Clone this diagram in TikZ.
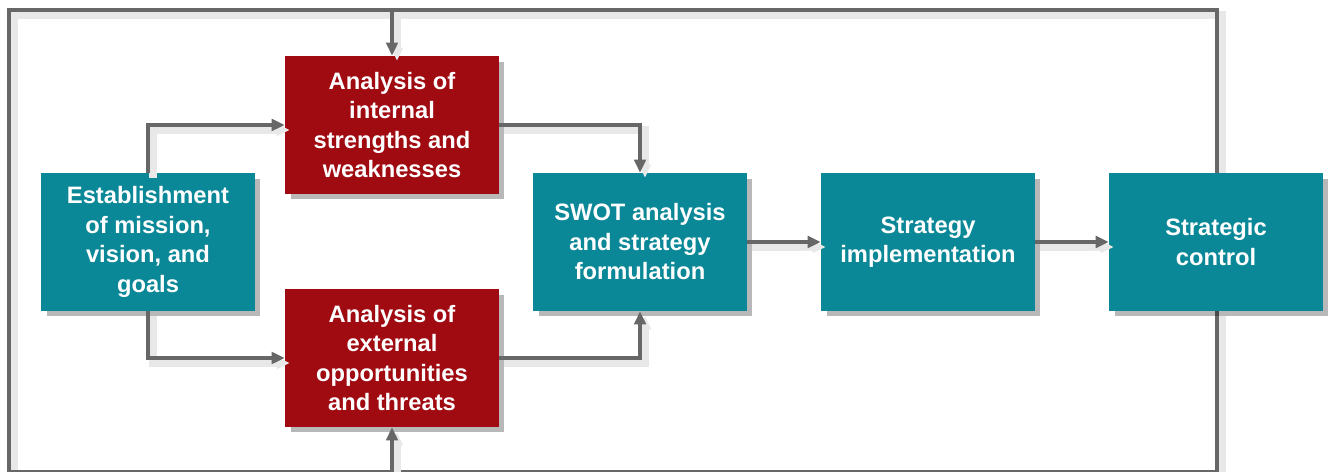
\documentclass[tikz,border=0pt]{standalone}
\usepackage{fontspec}
\setmainfont{Liberation Sans}
\usetikzlibrary{arrows.meta,shadows}
\definecolor{planteal}{HTML}{0B8897}
\definecolor{planred}{HTML}{A00A11}
\definecolor{linkgray}{HTML}{676767}

\begin{document}
\begin{tikzpicture}[x=0.02cm,y=-0.02cm,
 box/.style={rectangle,minimum width=4.28cm,minimum height=2.76cm,inner sep=0pt,
  align=center,text=white,font=\fontsize{13.5}{16.8}\selectfont\bfseries,
  drop shadow={shadow xshift=0.11cm,shadow yshift=-0.11cm,fill=black,opacity=0.28}},
 tealbox/.style={box,fill=planteal},
 redbox/.style={box,fill=planred},
 link/.style={draw=linkgray,line width=2.2pt,
  preaction={draw=black!9,line width=4pt,transform canvas={xshift=0.1cm,yshift=-0.1cm}}},
 tip/.style={-{Triangle[length=2.6mm,width=2.3mm]}}]
\useasboundingbox (0,0) rectangle (1331,472);
\coordinate (ul) at (9,10);
\coordinate (ll) at (9,472);
% feedback loop
\draw[link] (1217,173) |- (ul) -- (ll) -| (1217,311);
\node[tealbox] (est) at (148,242) {Establishment\\of mission,\\vision, and\\goals};
\node[redbox] (inner) at (392,125) {Analysis of\\internal\\strengths and\\weaknesses};
\node[redbox] (outer) at (392,358) {Analysis of\\external\\opportunities\\and threats};
\node[tealbox] (swot) at (640,242) {SWOT analysis\\and strategy\\formulation};
\node[tealbox] (impl) at (928,242) {Strategy\\implementation};
\node[tealbox] (ctrl) at (1216,242) {Strategic\\control};
\draw[link,tip] (ul -| inner) -- (inner.north);
\draw[link,tip] (ll -| outer) -- (outer.south);
\draw[link,tip] (est.north) |- (inner.west);
\draw[link,tip] (est.south) |- (outer.west);
\draw[link,tip] (inner.east) -| (swot.north);
\draw[link,tip] (outer.east) -| (swot.south);
\draw[link,tip] (swot) -- (impl);
\draw[link,tip] (impl) -- (ctrl);
\end{tikzpicture}
\end{document}
